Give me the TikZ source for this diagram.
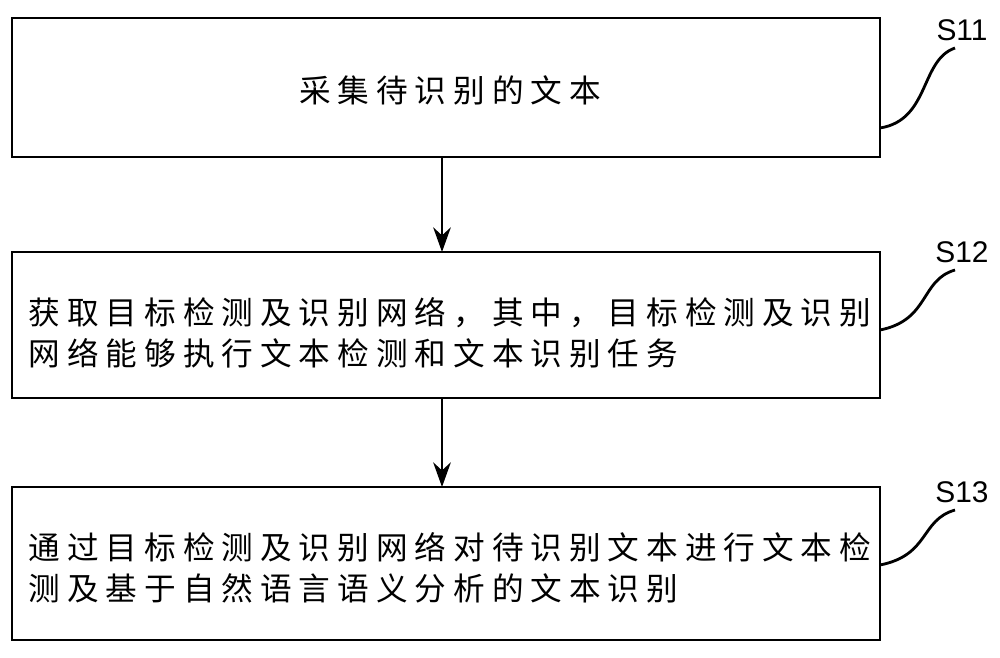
\documentclass[tikz,border=0pt]{standalone}
\usepackage{fontspec}
\setmainfont{Liberation Sans}
\newfontfamily\cjk[LetterSpace=22]{Noto Sans CJK SC}
\usetikzlibrary{arrows.meta}
\begin{document}
\begin{tikzpicture}[x=0.01cm,y=-0.01cm,
  box/.style={draw,line width=0.8pt},
  txt/.style={font=\cjk\fontsize{9pt}{11.5pt}\selectfont,anchor=west,align=left,inner sep=0},
  arr/.style={-{Stealth[length=7pt,width=5pt]},line width=0.8pt},
  lab/.style={font=\fontsize{8.5pt}{10pt}\selectfont,inner sep=1pt}]
\useasboundingbox (0,0) rectangle (1000,657);
\draw[box] (12,18) rectangle (880,157);
\node[font=\cjk\fontsize{9pt}{12pt}\selectfont,inner sep=0] (t1) at (450,90) {采集待识别的文本};
\draw[box] (12,252) rectangle (880,398);
\node[txt] (t2) at (28,333) {获取目标检测及识别网络，其中，目标检测及识别\\网络能够执行文本检测和文本识别任务};
\draw[box] (12,487) rectangle (880,640);
\node[txt] (t3) at (28,568) {通过目标检测及识别网络对待识别文本进行文本检\\测及基于自然语言语义分析的文本识别};
\coordinate (a1) at (442,157); \coordinate (a2) at (442,252);
\coordinate (a3) at (442,398); \coordinate (a4) at (442,487);
\draw[arr] (a1) -- (a2);
\draw[arr] (a3) -- (a4);
\node[lab] (s1) at (962,30) {S11};
\node[lab] (s2) at (962,252) {S12};
\node[lab] (s3) at (962,492) {S13};
\draw[line width=0.8pt] (880,128) .. controls (930,120) and (920,60) .. (955,48);
\draw[line width=0.8pt] (880,330) .. controls (930,320) and (920,280) .. (955,270);
\draw[line width=0.8pt] (880,565) .. controls (930,555) and (920,520) .. (955,510);
\end{tikzpicture}
\end{document}
